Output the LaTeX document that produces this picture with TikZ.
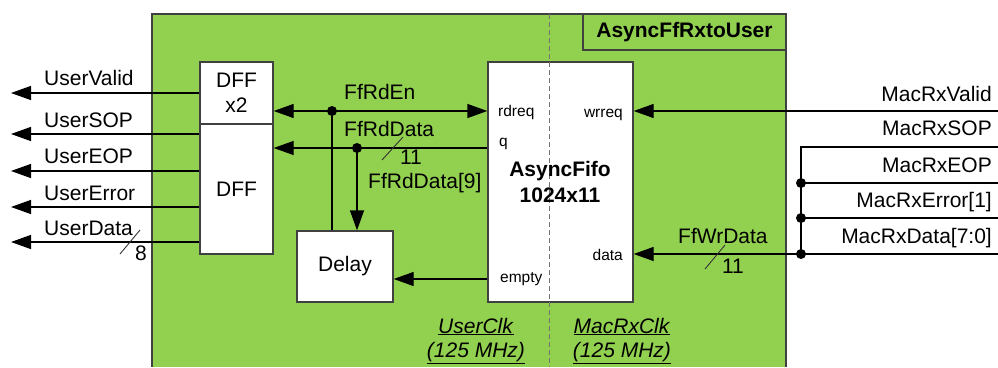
\documentclass[tikz,border=0pt]{standalone}
\usepackage{fontspec}
\setmainfont{Liberation Sans}
\usetikzlibrary{arrows.meta}
\definecolor{boardgreen}{HTML}{92D050}
\definecolor{edgegray}{HTML}{404040}
\newcommand\lblfont{\fontsize{21}{25}\selectfont}
\newcommand\portfont{\fontsize{15.5}{18}\selectfont}
\begin{document}
\begin{tikzpicture}[x=1pt,y=-1pt,
  sig/.style={line width=1.4pt, draw=black},
  arr/.style={sig, -{Triangle[length=20pt,width=14pt]}},
  blk/.style={draw=edgegray, line width=1.4pt, fill=white, inner sep=0pt, align=center, font=\lblfont},
  lbl/.style={inner sep=0pt, font=\lblfont},
  port/.style={inner sep=0pt, font=\portfont},
  dotn/.style={circle, fill=black, inner sep=0pt, minimum size=10pt},
  slash/.style={line width=0.9pt, draw=black!80},
]
\useasboundingbox (0,0) rectangle (998,367);
% green board
\fill[boardgreen] (152,14) rectangle (786,367);
\draw[edgegray, line width=1.4pt] (152,367) -- (152,14) -- (786,14) -- (786,367);
\node[blk, fill=boardgreen, minimum width=203pt, minimum height=36pt, font=\lblfont\bfseries] (title) at (684.5,32) {AsyncFfRxtoUser};
% fifo
\node[blk, minimum width=145pt, minimum height=240pt] (fifo) at (560.5,182) {};
\coordinate (dtop) at (549,14);
\coordinate (dbot) at (549,367);
\draw[black!55, line width=0.8pt, dash pattern=on 5pt off 3pt] (dtop) -- (dbot);
\node[lbl, font=\lblfont\bfseries, align=center] (fifotxt) at (560,182) {AsyncFifo\\[1pt]1024x11};
\node[port, anchor=base west] (prd) at (498,116) {rdreq};
\node[port, anchor=base west] (pq) at (499,146) {q};
\node[port, anchor=base west] (pempty) at (500,282) {empty};
\node[port, anchor=base east] (pwr) at (623,117) {wrreq};
\node[port, anchor=base east] (pdata) at (623,260) {data};
% blocks
\node[blk, minimum width=73pt, minimum height=62pt] (dff2) at (236.5,93) {DFF\\[0pt]x2};
\node[blk, minimum width=73pt, minimum height=130pt] (dff) at (236.5,189) {DFF};
\node[blk, minimum width=96pt, minimum height=71pt] (delay) at (345,266.5) {Delay};
% left outputs
\coordinate (oValid) at (11,93);
\coordinate (oSOP) at (11,134);
\coordinate (oEOP) at (11,171);
\coordinate (oErr) at (11,207);
\coordinate (oData) at (11,242);
\draw[arr] (dff2.west |- oValid) -- (oValid);
\draw[arr] (dff.west |- oSOP) -- (oSOP);
\draw[arr] (dff.west |- oEOP) -- (oEOP);
\draw[arr] (dff.west |- oErr) -- (oErr);
\draw[arr] (dff.west |- oData) -- (oData);
\draw[slash] (120,254) -- (140,230);
\node[lbl] (w8) at (141,253) {8};
\node[lbl, anchor=base west] at (44,85) {UserValid};
\node[lbl, anchor=base west] at (44,127) {UserSOP};
\node[lbl, anchor=base west] at (44,163) {UserEOP};
\node[lbl, anchor=base west] at (44,200) {UserError};
\node[lbl, anchor=base west] at (44,235) {UserData};
% read side
\node[dotn] (dotEn) at (332,111) {};
\node[dotn] (dotQ) at (357,148) {};
\draw[arr] (dotEn.center) -- (dff2.east |- dotEn);
\draw[arr] (dotEn.center) -- (fifo.west |- dotEn);
\draw[sig] (dotEn.center) -- (delay.north -| dotEn);
\draw[sig] (fifo.west |- dotQ) -- (dotQ.center);
\draw[arr] (dotQ.center) -- (dff.east |- dotQ);
\draw[arr] (dotQ.center) -- (delay.north -| dotQ);
\coordinate (yEmpty) at (0,279);
\draw[arr] (fifo.west |- yEmpty) -- (delay.east |- yEmpty);
\draw[slash] (382,160) -- (403,137);
\node[lbl] (w11a) at (411,157) {11};
\node[lbl, anchor=base west] at (344,99) {FfRdEn};
\node[lbl, anchor=base west] at (344,136) {FfRdData};
\node[lbl, anchor=base west] at (368,188) {FfRdData[9]};
% write side
\coordinate (iValid) at (998,111);
\coordinate (iSOP) at (998,147);
\coordinate (iEOP) at (998,183);
\coordinate (iErr) at (998,218);
\coordinate (iData) at (998,254);
\coordinate (jSOP) at (801,147);
\node[dotn] (jEOP) at (801,183) {};
\node[dotn] (jErr) at (801,218) {};
\node[dotn] (jData) at (801,254) {};
\draw[arr] (iValid) -- (fifo.east |- iValid);
\draw[sig] (iSOP) -- (jSOP) -- (jData.center);
\draw[sig] (iEOP) -- (jEOP.center);
\draw[sig] (iErr) -- (jErr.center);
\draw[arr] (iData) -- (fifo.east |- iData);
\draw[slash] (705,269) -- (725,245);
\node[lbl] (w11b) at (733,266) {11};
\node[lbl, anchor=base west] at (678,243) {FfWrData};
\node[lbl, anchor=base east] at (992,101) {MacRxValid};
\node[lbl, anchor=base east] at (992,135) {MacRxSOP};
\node[lbl, anchor=base east] at (992,172) {MacRxEOP};
\node[lbl, anchor=base east] at (992,207) {MacRxError[1]};
\node[lbl, anchor=base east] at (992,243) {MacRxData[7:0]};
% clocks
\node[lbl, anchor=base] at (476,333) {\underline{\textit{UserClk}}};
\node[lbl, anchor=base] at (476,357) {\underline{\textit{(125 MHz)}}};
\node[lbl, anchor=base] at (622,333) {\underline{\textit{MacRxClk}}};
\node[lbl, anchor=base] at (622,357) {\underline{\textit{(125 MHz)}}};
\end{tikzpicture}
\end{document}
